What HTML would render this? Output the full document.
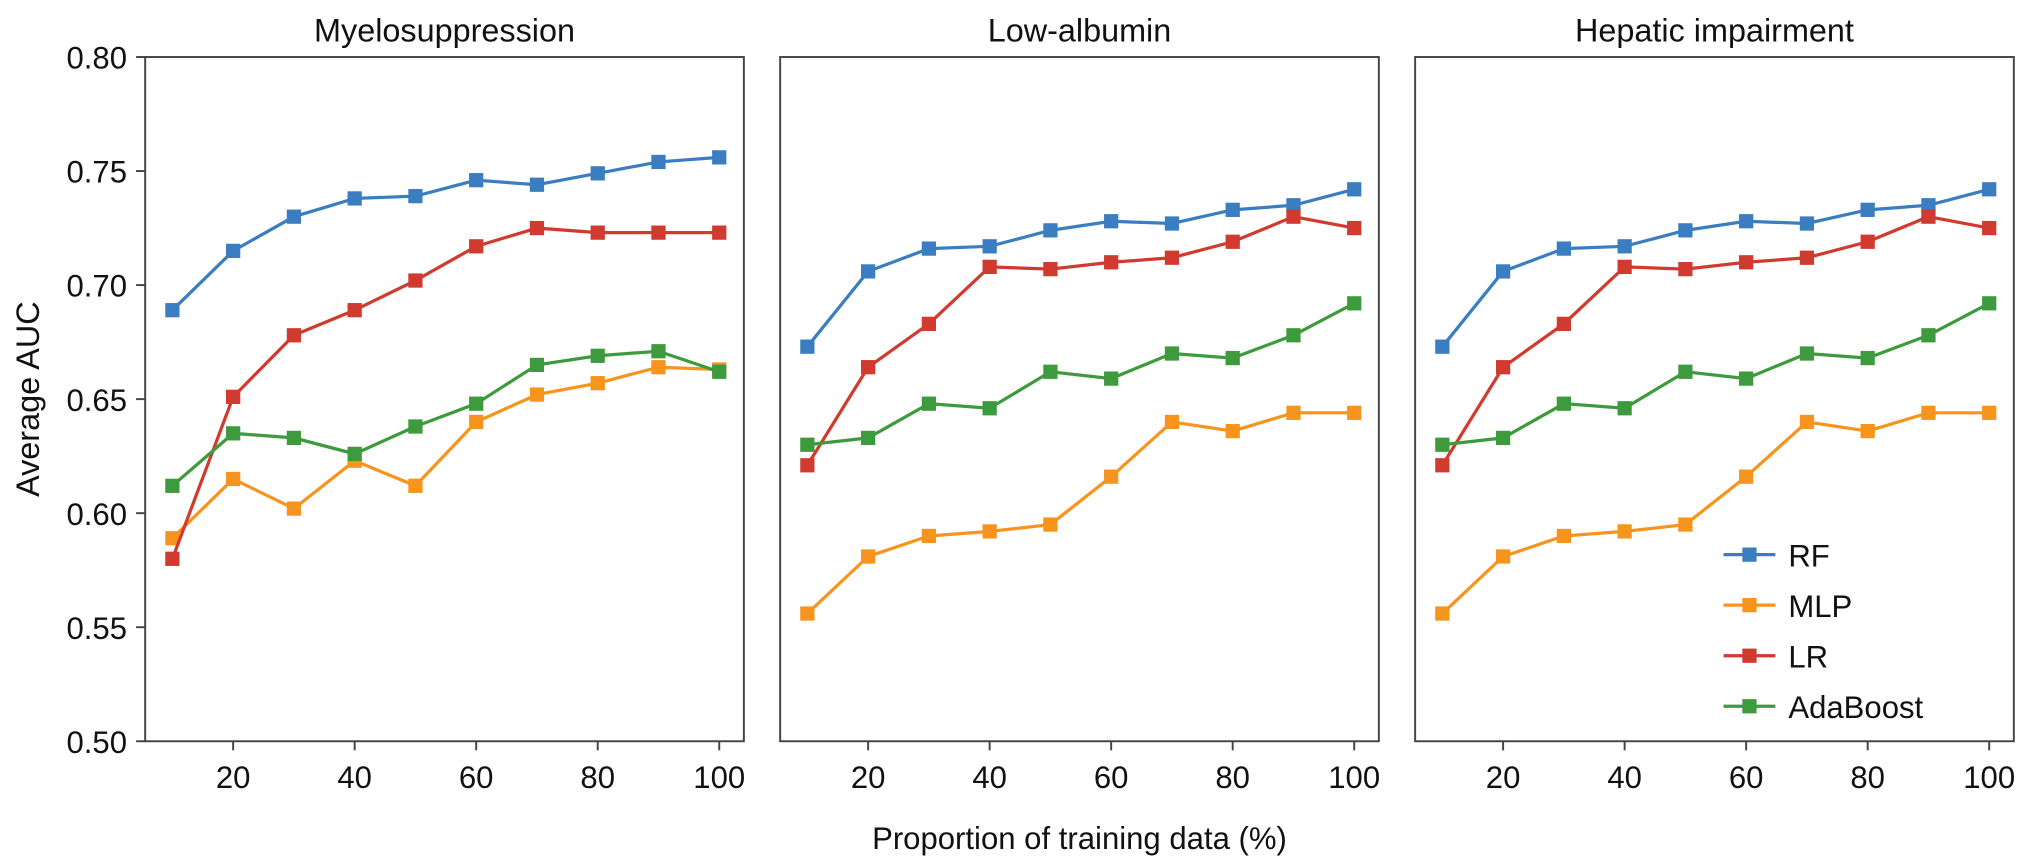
<!DOCTYPE html>
<html><head><meta charset="utf-8"><style>
html,body{margin:0;padding:0;background:#fff;}
svg{display:block;}
svg text{font-family:"Liberation Sans",Arial,sans-serif;fill:#111;}
</style></head><body>
<svg id="chart" width="2032" height="865" viewBox="0 0 1568 667.5"></svg>
<script>
const xValues=[10,20,30,40,50,60,70,80,90,100];
const xTicks=[20,40,60,80,100];
const yTicks=[0.50,0.55,0.60,0.65,0.70,0.75,0.80];
const panelTitles=["Myelosuppression","Low-albumin","Hepatic impairment"];
const seriesNames=["RF","MLP","LR","AdaBoost"];
const seriesColors=["#3a7dc0","#f7941d","#d13a2e","#3d9a3d"];
const p1RF=[0.689,0.715,0.730,0.738,0.739,0.746,0.744,0.749,0.754,0.756];
const p1MLP=[0.589,0.615,0.602,0.623,0.612,0.640,0.652,0.657,0.664,0.663];
const p1LR=[0.580,0.651,0.678,0.689,0.702,0.717,0.725,0.723,0.723,0.723];
const p1Ada=[0.612,0.635,0.633,0.626,0.638,0.648,0.665,0.669,0.671,0.662];
const p2RF=[0.673,0.706,0.716,0.717,0.724,0.728,0.727,0.733,0.735,0.742];
const p2MLP=[0.556,0.581,0.590,0.592,0.595,0.616,0.640,0.636,0.644,0.644];
const p2LR=[0.621,0.664,0.683,0.708,0.707,0.710,0.712,0.719,0.730,0.725];
const p2Ada=[0.630,0.633,0.648,0.646,0.662,0.659,0.670,0.668,0.678,0.692];
const p3RF=[0.673,0.706,0.716,0.717,0.724,0.728,0.727,0.733,0.735,0.742];
const p3MLP=[0.556,0.581,0.590,0.592,0.595,0.616,0.640,0.636,0.644,0.644];
const p3LR=[0.621,0.664,0.683,0.708,0.707,0.710,0.712,0.719,0.730,0.725];
const p3Ada=[0.630,0.633,0.648,0.646,0.662,0.659,0.670,0.668,0.678,0.692];
const panelData=[[p1RF,p1MLP,p1LR,p1Ada],[p2RF,p2MLP,p2LR,p2Ada],[p3RF,p3MLP,p3LR,p3Ada]];

const NS="http://www.w3.org/2000/svg";
const svg=document.getElementById('chart');
function mk(tag,attrs,parent){const e=document.createElementNS(NS,tag);for(const k in attrs)e.setAttribute(k,attrs[k]);(parent||svg).appendChild(e);return e;}
const panelLeft=[112,602,1092],panelW=462,plotTop=44,plotBottom=572;
const yMin=0.5,yMax=0.8;
function yS(v){return plotBottom-(v-yMin)/(yMax-yMin)*(plotBottom-plotTop);}
function xS(p,v){return panelLeft[p]+21+(v-10)/90*(panelW-40);}

panelLeft.forEach((L,p)=>{
  const g=mk('g',{});
  
  
  const box=mk('rect',{x:L,y:plotTop,width:panelW,height:plotBottom-plotTop,fill:'none',stroke:'#444','stroke-width':1.5},g);
  
  
  const t=mk('text',{x:L+panelW/2,y:32,'text-anchor':'middle','font-size':25},g);
  t.textContent=panelTitles[p];
  
  
  xTicks.forEach(v=>{
    const x=xS(p,v);
    const tk=mk('line',{x1:x,x2:x,y1:plotBottom,y2:plotBottom+7,stroke:'#444','stroke-width':1.5},g);
    
    
    const tl=mk('text',{x:x,y:plotBottom+36,'text-anchor':'middle','font-size':24},g);
    tl.textContent=v;
    
    
  });
  panelData[p].forEach((vals,s)=>{
    const pts=vals.map((v,i)=>xS(p,xValues[i])+','+yS(v)).join(' ');
    const pl=mk('polyline',{points:pts,fill:'none',stroke:seriesColors[s],'stroke-width':2.5},g);
    
    
    vals.forEach((v,i)=>{
      const r=mk('rect',{x:xS(p,xValues[i])-5.5,y:yS(v)-5.5,width:11,height:11,fill:seriesColors[s]},g);
      
      
    });
  });
});
yTicks.forEach(v=>{
  const y=yS(v);
  const tk=mk('line',{x1:105,x2:112,y1:y,y2:y,stroke:'#444','stroke-width':1.5});
  
  
  const tl=mk('text',{x:98,y:y+9,'text-anchor':'end','font-size':24});
  tl.textContent=v.toFixed(2);
  
  
});
const yt=mk('text',{x:0,y:0,'text-anchor':'middle','font-size':25,transform:'translate(30,308) rotate(-90)'});
yt.textContent='Average AUC';


const xt=mk('text',{x:833,y:655,'text-anchor':'middle','font-size':24});
xt.textContent='Proportion of training data (%)';


seriesNames.forEach((n,s)=>{
  const y=428+s*39;
  const g=mk('g',{});
  
  
  mk('line',{x1:1330,x2:1370,y1:y,y2:y,stroke:seriesColors[s],'stroke-width':2.5},g);
  mk('rect',{x:1344.5,y:y-5.5,width:11,height:11,fill:seriesColors[s]},g);
  const t=mk('text',{x:1380,y:y+9,'font-size':24},g);
  t.textContent=n;
});
</script>
</body></html>
